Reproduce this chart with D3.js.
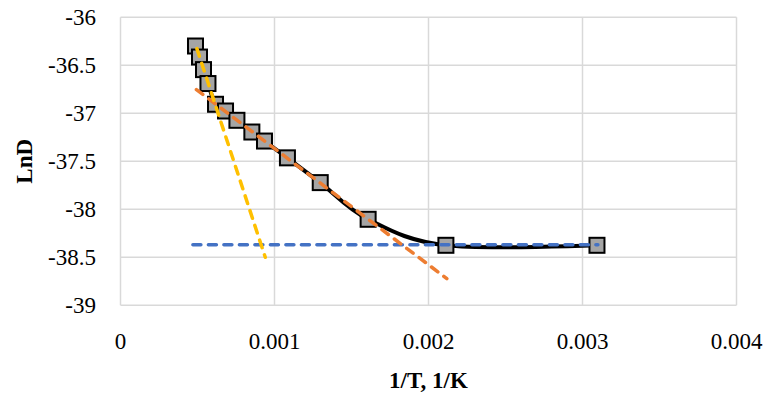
<!DOCTYPE html>
<html><head><meta charset="utf-8">
<script src="https://cdn.jsdelivr.net/npm/d3@7"></script>
<style>
html,body{margin:0;padding:0;background:#fff;}
svg{display:block;}
</style></head>
<body>
<svg id="chart" width="763" height="396"></svg>
<script>
// Data
const invT = [0.000487, 0.000513, 0.000539, 0.000568, 0.000617, 0.000682, 0.000756, 0.000853, 0.000935, 0.001084, 0.001297, 0.001608, 0.002113, 0.003094];
const lnD  = [-36.299, -36.414, -36.545, -36.690, -36.906, -36.976, -37.073, -37.195, -37.289, -37.464, -37.722, -38.104, -38.375, -38.375];
// trendline endpoints [x, y]
const trendYellow = [[0.000496, -36.326], [0.000940, -38.50]];
const trendOrange = [[0.000493, -36.753], [0.002119, -38.722]];
const trendBlue   = [[0.000470, -38.370], [0.003100, -38.370]];
const xTicks = [0, 0.001, 0.002, 0.003, 0.004];
const yTicks = [-36, -36.5, -37, -37.5, -38, -38.5, -39];
const xLabels = ["0", "0.001", "0.002", "0.003", "0.004"];
const yLabels = ["-36", "-36.5", "-37", "-37.5", "-38", "-38.5", "-39"];

(function () {
const svg = d3.select("#chart");
const pLeft = 120.5, pRight = 736.5, pTop = 17.3, pBottom = 305.3;
const x = d3.scaleLinear().domain([0, 0.004]).range([pLeft, pRight]);
const y = d3.scaleLinear().domain([-39, -36]).range([pBottom, pTop]);
const font = "'Liberation Serif', 'Times New Roman', serif";

// gridlines
svg.append("g").selectAll("line").data(yTicks).join("line")
  .attr("x1", pLeft).attr("x2", pRight)
  .attr("y1", d => y(d)).attr("y2", d => y(d))
  .attr("stroke", "#d9d9d9").attr("stroke-width", 1.5);
svg.append("g").selectAll("line").data(xTicks).join("line")
  .attr("y1", pTop).attr("y2", pBottom)
  .attr("x1", d => x(d)).attr("x2", d => x(d))
  .attr("stroke", "#d9d9d9").attr("stroke-width", 1.5);

// tick labels
svg.append("g").selectAll("text").data(yTicks).join("text")
  .attr("x", 96).attr("y", d => y(d) + 7.6)
  .attr("text-anchor", "end")
  .attr("font-family", font).attr("font-size", 23).attr("fill", "#000")
  .text((d, i) => yLabels[i]);
svg.append("g").selectAll("text").data(xTicks).join("text")
  .attr("x", d => x(d)).attr("y", 349)
  .attr("text-anchor", "middle")
  .attr("font-family", font).attr("font-size", 23).attr("fill", "#000")
  .text((d, i) => xLabels[i]);

// axis titles
svg.append("text")
  .attr("x", (pLeft + pRight) / 2).attr("y", 388)
  .attr("text-anchor", "middle")
  .attr("font-family", font).attr("font-size", 23).attr("font-weight", "bold")
  .text("1/T, 1/K");
svg.append("text")
  .attr("transform", `translate(31.5, ${(pTop + pBottom) / 2}) rotate(-90)`)
  .attr("text-anchor", "middle")
  .attr("font-family", font).attr("font-size", 23).attr("font-weight", "bold")
  .text("LnD");

// smooth series line
const pts = invT.map((v, i) => [v, lnD[i]]);
const line = d3.line().x(d => x(d[0])).y(d => y(d[1])).curve(d3.curveCardinal.tension(0));
svg.append("path").datum(pts)
  .attr("d", line)
  .attr("fill", "none").attr("stroke", "#000").attr("stroke-width", 4);

// markers
const ms = 15;
svg.append("g").selectAll("rect").data(pts).join("rect")
  .attr("x", d => x(d[0]) - ms / 2).attr("y", d => y(d[1]) - ms / 2)
  .attr("width", ms).attr("height", ms)
  .attr("fill", "#a5a5a5").attr("stroke", "#000").attr("stroke-width", 2);

// trendlines
const straight = d3.line().x(d => x(d[0])).y(d => y(d[1]));
[[trendBlue, "#4472c4"], [trendOrange, "#ed7d31"], [trendYellow, "#ffc000"]].forEach(([t, c]) => {
  svg.append("path").datum(t)
    .attr("d", straight)
    .attr("fill", "none").attr("stroke", c).attr("stroke-width", 3.5)
    .attr("stroke-dasharray", "8,7.5").attr("stroke-linecap", "round");
});
})();
</script>
</body></html>
